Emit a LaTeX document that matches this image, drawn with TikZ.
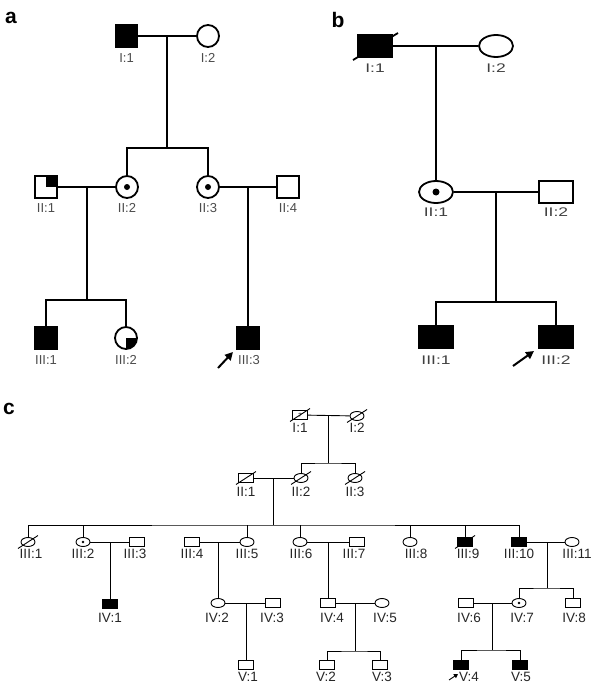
\documentclass[tikz,border=0pt]{standalone}
\usepackage{fontspec}
\setmainfont{Liberation Sans}
\usetikzlibrary{shapes.geometric,arrows.meta}
\begin{document}
\begin{tikzpicture}[x=1pt,y=-1pt,
  lw/.style={line width=1.8pt},
  lc/.style={line width=0.9pt},
  sqa/.style={draw,lw,rectangle,minimum width=22pt,minimum height=22pt,inner sep=0pt},
  cia/.style={draw,lw,circle,minimum size=22pt,inner sep=0pt},
  sqb/.style={draw,lw,rectangle,minimum width=34pt,minimum height=22pt,inner sep=0pt},
  elb/.style={draw,lw,ellipse,minimum width=34pt,minimum height=22pt,inner sep=0pt},
  sqc/.style={draw,lc,rectangle,minimum width=15pt,minimum height=9pt,inner sep=0pt},
  elc/.style={draw,lc,ellipse,minimum width=14pt,minimum height=9pt,inner sep=0pt},
  aff/.style={fill=black},
  carrier/.style={path picture={\fill (path picture bounding box.center) circle[radius=#1];}},
  quadNE/.style={path picture={\fill (path picture bounding box.center) rectangle (path picture bounding box.north east);}},
  quadSE/.style={path picture={\fill (path picture bounding box.center) rectangle (path picture bounding box.south east);}},
  laba/.style={inner sep=0pt,text=black!70,font=\fontsize{13}{15}\selectfont},
  labb/.style={inner sep=0pt,text=black!75,xscale=1.4,font=\fontsize{12.5}{15}\selectfont},
  labc/.style={inner sep=0pt,text=black!85,font=\fontsize{13.5}{15}\selectfont},
  panel/.style={inner sep=0pt,font=\fontsize{21}{24}\selectfont\bfseries},
  proband/.style={line width=2pt,-{Triangle[length=8pt,width=8pt]}}
]
\fill[white] (0,0) rectangle (593,685);
\useasboundingbox (0,0) rectangle (593,685);

% ---------------- panel a ----------------
\node[panel] (pa) at (11,18) {a};
\node[sqa,aff] (aI1) at (126.5,36) {};
\node[cia] (aI2) at (208,36) {};
\draw[lw] (aI1) -- (aI2);
\coordinate (amI) at (167,36);
\coordinate (asI) at (167,148);
\node[sqa,quadNE] (aII1) at (46,187) {};
\node[cia,carrier=3pt] (aII2) at (127,187) {};
\node[cia,carrier=3pt] (aII3) at (208,187) {};
\node[sqa] (aII4) at (288,187) {};
\draw[lw] (amI) -- (asI);
\draw[lw] (aII2.north) |- (asI) -| (aII3.north);
\draw[lw] (aII1) -- (aII2);
\draw[lw] (aII3) -- (aII4);
\coordinate (amII1) at (87,187);
\coordinate (asII1) at (87,300);
\draw[lw] (amII1) -- (asII1);
\node[sqa,aff] (aIII1) at (46,338) {};
\node[cia,quadSE] (aIII2) at (126,338) {};
\draw[lw] (aIII1.north) |- (asII1) -| (aIII2.north);
\coordinate (amII2) at (248,187);
\node[sqa,aff] (aIII3) at (248,338) {};
\draw[lw] (amII2) -- (aIII3.north);
\node[laba] (laI1) at (126.5,58) {I:1};
\node[laba] (laI2) at (208,58) {I:2};
\node[laba] (laII1) at (46,208) {II:1};
\node[laba] (laII2) at (127,208) {II:2};
\node[laba] (laII3) at (208,208) {II:3};
\node[laba] (laII4) at (288,208) {II:4};
\node[laba] (laIII1) at (46,360) {III:1};
\node[laba] (laIII2) at (126,360) {III:2};
\node[laba] (laIII3) at (249,360) {III:3};
\coordinate (arA) at (218,368);
\coordinate (arAe) at (233,352);
\draw[proband] (arA) -- (arAe);

% ---------------- panel b ----------------
\node[panel] (pb) at (338,19.5) {b};
\node[sqb,aff] (bI1) at (375,46) {};
\draw[lw] ([shift={(-22,14)}]bI1.center) -- ([shift={(23,-13)}]bI1.center);
\node[elb] (bI2) at (496,46) {};
\draw[lw] (bI1) -- (bI2);
\coordinate (bmI) at (436,46);
\node[elb,carrier=3.5pt] (bII1) at (436,192) {};
\draw[lw] (bmI) -- (bII1.north);
\node[sqb] (bII2) at (556,192) {};
\draw[lw] (bII1) -- (bII2);
\coordinate (bmII) at (496,192);
\coordinate (bsII) at (496,302);
\node[sqb,aff] (bIII1) at (436,337) {};
\node[sqb,aff] (bIII2) at (556,337) {};
\draw[lw] (bmII) -- (bsII);
\draw[lw] (bIII1.north) |- (bsII) -| (bIII2.north);
\node[labb] (lbI1) at (375,68) {I:1};
\node[labb] (lbI2) at (496,68) {I:2};
\node[labb] (lbII1) at (436,212) {II:1};
\node[labb] (lbII2) at (556,212) {II:2};
\node[labb] (lbIII1) at (436,360) {III:1};
\node[labb] (lbIII2) at (556,360) {III:2};
\coordinate (arB) at (513,366);
\coordinate (arBe) at (534,351);
\draw[proband] (arB) -- (arBe);

% ---------------- panel c ----------------
\node[panel] (pc) at (9,408.5) {c};
% generation I
\node[sqc] (cI1) at (300,415) {\fontsize{6}{6}\selectfont ?};
\node[elc] (cI2) at (357,416) {};
\draw[lc] (cI1) -- (cI2);
\coordinate (cmI) at (328,415.5);
\coordinate (csI) at (328,463);
% generation II
\node[sqc] (cII1) at (246,478) {};
\node[elc] (cII2) at (301,478) {};
\node[elc] (cII3) at (355,478) {};
\draw[lc] (cmI) -- (csI);
\draw[lc] (cII2.north) |- (csI) -| (cII3.north);
\draw[lc] (cII1) -- (cII2);
\coordinate (cmII) at (273,478);
\coordinate (csII) at (273,525);
\draw[lc] (cmII) -- (csII);
% generation III
\node[elc] (cIII1) at (28,542) {};
\node[elc,carrier=1.4pt] (cIII2) at (83,542) {};
\node[sqc] (cIII3) at (137,542) {};
\node[sqc] (cIII4) at (192,542) {};
\node[elc] (cIII5) at (247,542) {};
\node[elc] (cIII6) at (300,542) {};
\node[sqc] (cIII7) at (357,542) {};
\node[elc] (cIII8) at (410,542) {};
\node[sqc,aff] (cIII9) at (465,542) {};
\node[sqc,aff] (cIII10) at (519,542) {};
\node[elc] (cIII11) at (572,542) {};
\draw[lc] (cIII1.north) |- (csII) -| (cIII10.north);
\foreach \n in {2,5,6,8,9}{\draw[lc] (cIII\n.north) -- (cIII\n.north |- csII);}
\draw[lc] (cIII2) -- (cIII3);
\draw[lc] (cIII4) -- (cIII5);
\draw[lc] (cIII6) -- (cIII7);
\draw[lc] (cIII10) -- (cIII11);
% deceased slashes
\foreach \s in {cI1,cI2,cII1,cII2,cII3,cIII1,cIII9}{\draw[lc] ([shift={(-10,6.5)}]\s.center) -- ([shift={(10,-6.5)}]\s.center);}
% generation IV
\node[sqc,aff] (cIV1) at (110,604) {};
\node[elc] (cIV2) at (218,603) {};
\node[sqc] (cIV3) at (273,603) {};
\node[sqc] (cIV4) at (328,603) {};
\node[elc] (cIV5) at (382,603) {};
\node[sqc] (cIV6) at (466,603) {};
\node[elc,carrier=1.4pt] (cIV7) at (519,603) {};
\node[sqc] (cIV8) at (573,603) {};
\coordinate (cm32) at (110,542);
\coordinate (cm45) at (218,542);
\coordinate (cm67) at (328,542);
\coordinate (cm1011) at (547,542);
\coordinate (cs1011) at (547,588);
\draw[lc] (cm32) -- (cIV1.north);
\draw[lc] (cm45) -- (cIV2.north);
\draw[lc] (cm67) -- (cIV4.north);
\draw[lc] (cm1011) -- (cs1011);
\draw[lc] (cIV7.north) |- (cs1011) -| (cIV8.north);
\draw[lc] (cIV2) -- (cIV3);
\draw[lc] (cIV4) -- (cIV5);
\draw[lc] (cIV6) -- (cIV7);
% generation V
\node[sqc] (cV1) at (246,665) {};
\node[sqc] (cV2) at (327,665) {};
\node[sqc] (cV3) at (380,665) {};
\node[sqc,aff] (cV4) at (461,665) {};
\node[sqc,aff] (cV5) at (520,665) {};
\coordinate (cm23) at (246,603);
\coordinate (cm45b) at (355,603);
\coordinate (cs45b) at (355,651);
\coordinate (cm67b) at (492,603);
\coordinate (cs67b) at (492,650);
\draw[lc] (cm23) -- (cV1.north);
\draw[lc] (cm45b) -- (cs45b);
\draw[lc] (cV2.north) |- (cs45b) -| (cV3.north);
\draw[lc] (cm67b) -- (cs67b);
\draw[lc] (cV4.north) |- (cs67b) -| (cV5.north);
% labels
\node[labc] at (300,428) {I:1};
\node[labc] at (357,428) {I:2};
\node[labc] at (246,492) {II:1};
\node[labc] at (301,492) {II:2};
\node[labc] at (355,492) {II:3};
\node[labc] at (31,554) {III:1};
\node[labc] at (83,554) {III:2};
\node[labc] at (135,554) {III:3};
\node[labc] at (192,554) {III:4};
\node[labc] at (247,554) {III:5};
\node[labc] at (301,554) {III:6};
\node[labc] at (354,554) {III:7};
\node[labc] at (416,554) {III:8};
\node[labc] at (468,554) {III:9};
\node[labc] at (519,554) {III:10};
\node[labc] at (577,554) {III:11};
\node[labc] at (110,618) {IV:1};
\node[labc] at (217,618) {IV:2};
\node[labc] at (272,618) {IV:3};
\node[labc] at (332,618) {IV:4};
\node[labc] at (385,618) {IV:5};
\node[labc] at (469,618) {IV:6};
\node[labc] at (522,618) {IV:7};
\node[labc] at (574,618) {IV:8};
\node[labc] at (248,677) {V:1};
\node[labc] at (326,677) {V:2};
\node[labc] at (382,677) {V:3};
\node[labc] (lcV4) at (469,677) {V:4};
\node[labc] at (521,677) {V:5};
\coordinate (arC) at (449,680);
\coordinate (arCe) at (458,674);
\draw[line width=0.9pt,-{Triangle[length=4pt,width=4.5pt]}] (arC) -- (arCe);
\end{tikzpicture}
\end{document}
